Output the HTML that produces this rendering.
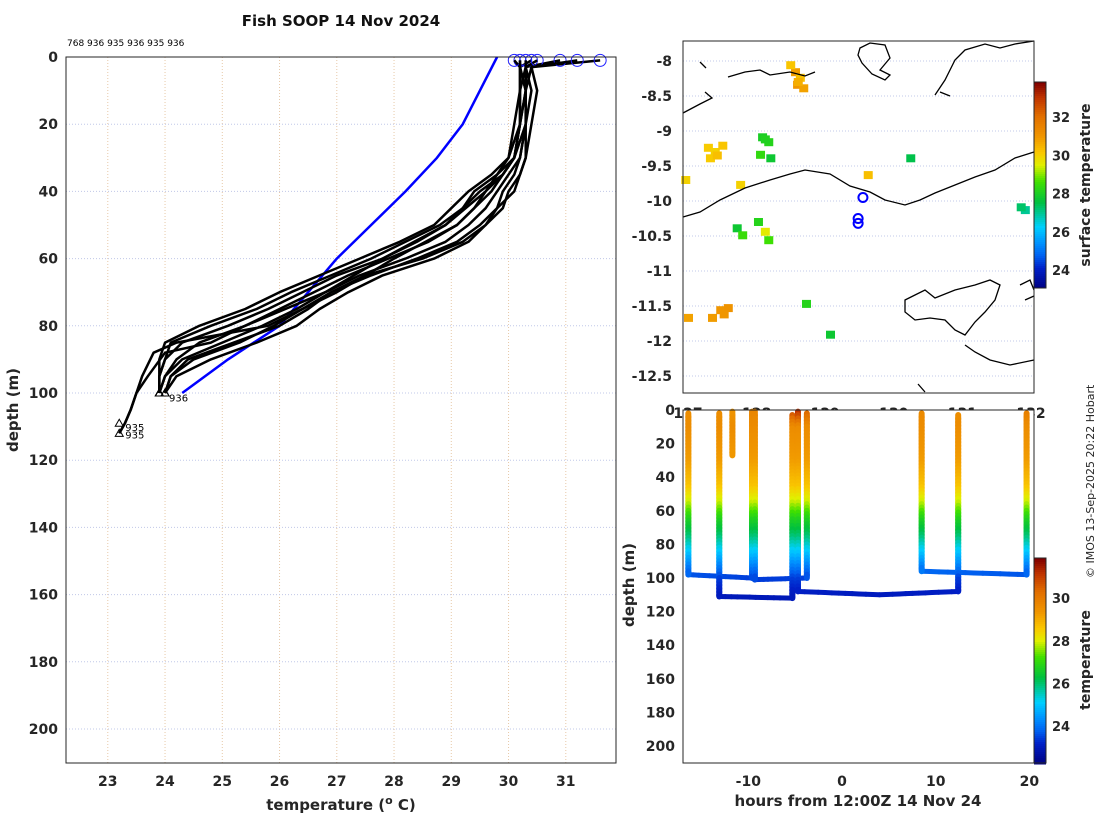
<!DOCTYPE html>
<html><head><meta charset="utf-8">
<style>
body{margin:0;background:#fff;}
svg{display:block;font-family:"DejaVu Sans","Liberation Sans",sans-serif;}
.tk{font-size:14px;font-weight:bold;fill:#262626;}
.lb{font-size:15px;font-weight:bold;fill:#262626;}
</style></head><body>
<svg id="chart" width="1100" height="820" viewBox="0 0 1100 820" xmlns="http://www.w3.org/2000/svg">
<rect width="1100" height="820" fill="#fff"/>
<g id="left"></g><g id="map"></g><g id="sect"></g>
<text x="341" y="26" text-anchor="middle" font-weight="bold" style="font-size:15px;font-weight:bold;fill:#111">Fish SOOP 14 Nov 2024</text>
<text x="67" y="46" style="font-size:9px;fill:#000">768 936 935 936 935 936</text>
<text transform="translate(1094,578) rotate(-90)" style="font-size:11px;fill:#262626">© IMOS 13-Sep-2025 20:22 Hobart</text>
</svg>
<script>
// ---------- data ----------
const xTicks=[23,24,25,26,27,28,29,30,31];
const yTicks=[0,20,40,60,80,100,120,140,160,180,200];
const profDepths=[1,3,10,20,30,35,40,45,50,55,60,65,70,75,80,85,90,95,100];
const profTemps=[
[31.6,30.4,30.3,30.3,30.2,30.1,29.9,29.8,29.5,29.1,28.4,27.6,26.9,26.4,25.9,25.3,24.5,24.1,24.0],
[30.9,30.3,30.3,30.3,30.1,29.9,29.6,29.4,29.1,28.6,27.9,27.2,26.6,26.0,25.4,24.6,24.2,24.0,23.9],
[30.4,30.2,30.2,30.2,30.1,29.8,29.4,29.2,28.8,28.2,27.6,26.9,26.2,25.6,24.8,24.1,24.0,23.9,23.9],
[30.3,30.3,30.4,30.3,30.3,30.2,30.0,29.9,29.6,29.3,28.7,27.8,27.2,26.7,26.3,25.6,24.8,24.2,24.0],
[30.2,30.2,30.2,30.1,30.0,29.7,29.3,29.0,28.7,28.1,27.4,26.7,26.0,25.4,24.6,24.0,23.9,23.9,23.9],
[30.1,30.2,30.3,30.3,30.2,30.0,29.8,29.6,29.3,28.9,28.2,27.4,26.8,26.3,25.7,25.0,24.3,24.0,23.9],
[30.5,30.3,30.3,30.2,30.1,29.9,29.5,29.2,28.9,28.4,27.8,27.0,26.4,25.8,25.1,24.3,24.0,23.9,23.9],
[31.2,30.4,30.5,30.4,30.3,30.2,30.1,29.8,29.6,29.2,28.5,27.5,26.9,26.5,26.0,25.2,24.4,24.1,24.0]];
const deepDepths=[1,3,10,20,30,40,50,60,70,80,85,88,95,100,105,109,112];
const deepTemps=[
[30.3,30.3,30.2,30.2,30.1,29.7,29.1,28.0,27.0,25.8,24.2,23.8,23.6,23.5,23.4,23.3,23.2],
[30.2,30.2,30.3,30.2,30.0,29.6,28.9,27.8,26.8,25.4,24.8,24.0,23.7,23.5,23.4,23.3,23.2]];
const blueDepths=[0,10,20,30,40,50,60,70,80,90,100];
const blueTemps=[29.8,29.5,29.2,28.75,28.2,27.6,27.0,26.5,26.0,25.1,24.3];
// map
const lonTicks=[127,128,129,130,131,132];
const latTicks=[-8,-8.5,-9,-9.5,-10,-10.5,-11,-11.5,-12,-12.5];
const mapCbTicks=[24,26,28,30,32];
const shipLon=[129.55,129.48,129.48];
const shipLat=[-9.95,-10.25,-10.32];
const sstLon=[128.56,128.63,128.59,128.68,128.49,128.6,127.29,127.39,127.5,127.32,127.42,128.08,128.17,128.2,128.05,128.12,127.76,126.96,127.71,127.79,128.02,128.12,128.17,127.47,127.58,127.35,127.0,127.52,128.72,129.07,130.24,131.91,131.85,129.62];
const sstLat=[-8.16,-8.24,-8.34,-8.39,-8.06,-8.3,-9.24,-9.30,-9.21,-9.39,-9.35,-9.09,-9.16,-9.39,-9.34,-9.12,-9.77,-9.7,-10.39,-10.49,-10.3,-10.44,-10.56,-11.56,-11.53,-11.67,-11.67,-11.62,-11.47,-11.91,-9.39,-10.13,-10.09,-9.63];
const sstVal=[30.9,30.3,31.0,30.8,30.2,30.6,30.1,30.0,30.2,30.1,30.3,28.0,28.2,27.8,28.4,28.1,30.0,30.0,27.8,28.5,28.2,29.6,28.6,31.0,31.1,30.9,30.8,31.0,28.2,27.8,27.5,27.0,27.3,30.3];
// section
const hrTicks=[-10,0,10,20];
const secDTicks=[0,20,40,60,80,100,120,140,160,180,200];
const secCbTicks=[24,26,28,30];
const castHours=[-16.4,-13.1,-11.7,-9.6,-9.3,-5.3,-4.7,-3.75,8.5,12.4,19.7];
const castTop=[2,2,1,1,1,3,1,2,2,3,2];
const castBottom=[98,111,27,100,101,112,108,100,96,108,98];
const castSurfT=[29.6,29.6,29.4,29.8,29.8,31.0,31.4,30.6,29.7,29.6,30.0];
const trackHours=[[-16.4,-9.6],[-13.1,-5.3],[-9.3,-3.75],[-4.7,4,12.4],[8.5,19.7]];
const trackDepth=[[98,100],[111,112],[101,100],[108,110,108],[96,98]];
const tDepth=[0,30,45,55,65,75,85,95,100,112];
const tTemp=[29.8,29.3,28.7,27.9,26.8,26.0,25.0,24.0,23.5,23.0];
// ---------- helpers ----------
const NS="http://www.w3.org/2000/svg";
function mk(p,tag,at,txt){const e=document.createElementNS(NS,tag);for(const k in at)e.setAttribute(k,at[k]);if(txt!==undefined)e.textContent=txt;p.appendChild(e);return e;}
const stops=[[0,[0,0,128]],[0.1,[0,32,200]],[0.16,[0,96,240]],[0.22,[0,144,255]],[0.3,[0,208,255]],[0.42,[0,192,64]],[0.52,[64,224,0]],[0.6,[224,240,0]],[0.66,[250,200,0]],[0.74,[240,150,0]],[0.84,[225,110,0]],[0.93,[190,50,0]],[1,[128,0,0]]];
function cmap(v){v=Math.max(0,Math.min(1,v));for(let i=1;i<stops.length;i++){if(v<=stops[i][0]){const a=stops[i-1],b=stops[i],f=(v-a[0])/(b[0]-a[0]);return `rgb(${a[1].map((c,j)=>Math.round(c+(b[1][j]-c)*f)).join(',')})`;}}return 'rgb(128,0,0)';}
function interp(xs,ys,x){if(x<=xs[0])return ys[0];for(let i=1;i<xs.length;i++)if(x<=xs[i])return ys[i-1]+(ys[i]-ys[i-1])*(x-xs[i-1])/(xs[i]-xs[i-1]);return ys[ys.length-1];}
// ---------- left panel ----------
const L=document.getElementById('left');
const lx=t=>66+(t-22.27)*57.25, ly=d=>57+d*3.36;
for(const t of xTicks){const x=lx(t);
 let g=mk(L,'line',{x1:x,x2:x,y1:57,y2:763,stroke:'#e8c8a8','stroke-dasharray':'1,2'});
 
 let tx=mk(L,'text',{x:x,y:786,'text-anchor':'middle',class:'tk','font-weight':'bold'},t);
 }
for(const d of yTicks){const y=ly(d);
 let g=mk(L,'line',{x1:66,x2:616,y1:y,y2:y,stroke:'#c0c8e8','stroke-dasharray':'1,2'});
 
 let tx=mk(L,'text',{x:58,y:y+5,'text-anchor':'end',class:'tk','font-weight':'bold'},d);
 }
function pl(par,xs,ys,color,w,name){const p=mk(par,'polyline',{points:xs.map((x,i)=>x+','+ys[i]).join(' '),fill:'none',stroke:color,'stroke-width':w,'stroke-linejoin':'round'});return p;}
pl(L,blueTemps.map(lx),blueDepths.map(ly),'#0000ff',2.5,'mean-profile-line');
profTemps.forEach((ts,i)=>{pl(L,ts.map(lx),profDepths.map(ly),'#000',2.5,'xbt-profile');
 const c=mk(L,'circle',{cx:lx(ts[0]),cy:ly(profDepths[0]),r:6,fill:'none',stroke:'#2020ff','stroke-width':1});
 
 const ex=lx(ts[ts.length-1]),ey=ly(100);
 const tr=mk(L,'path',{d:`M${ex-4},${ey+3}L${ex+4},${ey+3}L${ex},${ey-4}Z`,fill:'none',stroke:'#000'});
 });
deepTemps.forEach((ts,i)=>{pl(L,ts.map(lx),deepDepths.map(ly),'#000',2.5,'xbt-profile-deep');
 const ex=lx(ts[ts.length-1]),ey=ly(deepDepths[deepDepths.length-1]-i*3);
 const tr=mk(L,'path',{d:`M${ex-4},${ey+3}L${ex+4},${ey+3}L${ex},${ey-4}Z`,fill:'none',stroke:'#000'});
 
 const t=mk(L,'text',{x:ex+6,y:ey+(i?8:5),style:'font-size:10px'},'935');});
{const t=mk(L,'text',{x:lx(24.0)+4,y:ly(101)+5,style:'font-size:10px'},'936');}
{const r=mk(L,'rect',{x:66,y:57,width:550,height:706,fill:'none',stroke:'#262626','stroke-width':1});}
{const t=mk(L,'text',{x:341,y:810,'text-anchor':'middle',class:'lb','font-weight':'bold'},'');t.innerHTML='temperature (<tspan font-size="11" dy="-6">o</tspan><tspan dy="6"> C)</tspan>';}
{const t=mk(L,'text',{transform:'translate(18,410) rotate(-90)','text-anchor':'middle',class:'lb','font-weight':'bold'},'depth (m)');}
// ---------- map ----------
const M=document.getElementById('map');
const mx=l=>688+(l-127)*68.6, my=la=>61+(-8-la)*70;
for(const t of latTicks){const y=my(t);
 let g=mk(M,'line',{x1:683,x2:1034,y1:y,y2:y,stroke:'#c0c8e8','stroke-dasharray':'1,2'});
 let tx=mk(M,'text',{x:672,y:y+5,'text-anchor':'end',class:'tk','font-weight':'bold'},t);}
for(const t of lonTicks){let tx=mk(M,'text',{x:mx(t),y:418,'text-anchor':'middle',class:'tk','font-weight':'bold'},t);}
sstLon.forEach((lo,i)=>{const c=cmap((sstVal[i]-23.06)/(33.8-23.06));
 const r=mk(M,'rect',{x:mx(lo)-4,y:my(sstLat[i])-4,width:9,height:8,fill:c});});
const coasts=[
"M683,217 L700,212 720,200 745,188 770,180 790,174 805,170 830,174 850,186 870,192 885,200 905,205 920,200 935,193 955,185 975,177 995,170 1015,158 1034,152",
"M683,113 L700,104 712,98 705,92 M728,77 L745,72 760,70 770,75 790,72 805,76 815,72 M700,62 L706,68",
"M860,48 L870,43 885,45 890,58 880,70 890,75 885,80 872,74 862,63 858,55Z",
"M935,95 L945,80 955,60 965,50 985,44 1000,48 1015,44 1034,41 M940,92 L950,96",
"M905,300 L915,295 925,290 935,298 955,290 975,285 990,280 1000,285 995,300 985,312 975,322 965,335 955,330 945,320 930,318 915,320 905,312Z",
"M965,345 L975,352 990,360 1010,365 1034,360 M918,384 L925,392",
"M1020,285 L1030,280 1034,290 M1025,300 L1034,296"];
coasts.forEach(d=>{const p=mk(M,'path',{d:d,fill:'none',stroke:'#000','stroke-width':1.3});});
shipLon.forEach((lo,i)=>{const c=mk(M,'circle',{cx:mx(lo),cy:my(shipLat[i]),r:4.5,fill:'none',stroke:'#0000ff','stroke-width':2});});
{const r=mk(M,'rect',{x:683,y:41,width:351,height:352,fill:'none',stroke:'#262626'});}
for(let y=82;y<288;y+=2){const v=1-(y-82)/206;const r=mk(M,'rect',{x:1034,y:y,width:12,height:2.5,fill:cmap(v)});}
{const r=mk(M,'rect',{x:1034,y:82,width:12,height:206,fill:'none',stroke:'#262626'});}
for(const t of mapCbTicks){const y=270-(t-24)*19.1;const tx=mk(M,'text',{x:1052,y:y+5,class:'tk','font-weight':'bold',style:'font-size:13px'},t);}
{const t=mk(M,'text',{transform:'translate(1090,185) rotate(-90)','text-anchor':'middle',class:'lb','font-weight':'bold',style:'font-size:14px'},'surface temperature');}
// ---------- section ----------
const S=document.getElementById('sect');
{const r=mk(S,'rect',{x:683,y:410,width:351,height:353,fill:'#fff'});}
const sx=h=>842+h*9.37, sy=d=>410+d*1.68;
for(const t of hrTicks){const tx=mk(S,'text',{x:sx(t),y:786,'text-anchor':'middle',class:'tk','font-weight':'bold'},t);}
for(const d of secDTicks){const tx=mk(S,'text',{x:675,y:sy(d)+5,'text-anchor':'end',class:'tk','font-weight':'bold'},d);}
const cn=t=>(t-22.26)/(31.9-22.26);
trackHours.forEach((hs,i)=>{for(let k=1;k<hs.length;k++){const n=12;for(let j=0;j<n;j++){const f0=j/n,f1=(j+1)/n;
 const h0=hs[k-1]+(hs[k]-hs[k-1])*f0,h1=hs[k-1]+(hs[k]-hs[k-1])*f1,d0=trackDepth[i][k-1]+(trackDepth[i][k]-trackDepth[i][k-1])*f0,d1=trackDepth[i][k-1]+(trackDepth[i][k]-trackDepth[i][k-1])*f1;
 const l=mk(S,'line',{x1:sx(h0),y1:sy(d0),x2:sx(h1),y2:sy(d1),stroke:cmap(cn(interp(tDepth,tTemp,(d0+d1)/2))),'stroke-width':5,'stroke-linecap':'round'});
 }}});
castHours.forEach((h,i)=>{for(let d=castTop[i];d<castBottom[i];d+=2){let t=interp(tDepth,tTemp,d);if(d<10)t+= (castSurfT[i]-29.8)*(1-d/10);
 const l=mk(S,'line',{x1:sx(h),y1:sy(d),x2:sx(h),y2:sy(Math.min(d+2.5,castBottom[i])),stroke:cmap(cn(t)),'stroke-width':6,'stroke-linecap':'round'});
 }});
{const r=mk(S,'rect',{x:683,y:410,width:351,height:353,fill:'none',stroke:'#262626'});}
for(let y=558;y<763;y+=2){const v=1-(y-558)/205;const r=mk(S,'rect',{x:1034,y:y,width:12,height:2.5,fill:cmap(v)});}
{const r=mk(S,'rect',{x:1034,y:558,width:12,height:205,fill:'none',stroke:'#262626'});}
for(const t of secCbTicks){const y=726-(t-24)*21.3;const tx=mk(S,'text',{x:1052,y:y+5,class:'tk','font-weight':'bold',style:'font-size:13px'},t);}
{const t=mk(S,'text',{transform:'translate(1090,660) rotate(-90)','text-anchor':'middle',class:'lb','font-weight':'bold',style:'font-size:14px'},'temperature');}
{const t=mk(S,'text',{x:858,y:806,'text-anchor':'middle',class:'lb','font-weight':'bold'},'hours from 12:00Z 14 Nov 24');}
{const t=mk(S,'text',{transform:'translate(634,585) rotate(-90)','text-anchor':'middle',class:'lb','font-weight':'bold'},'depth (m)');}
</script>
</body></html>
